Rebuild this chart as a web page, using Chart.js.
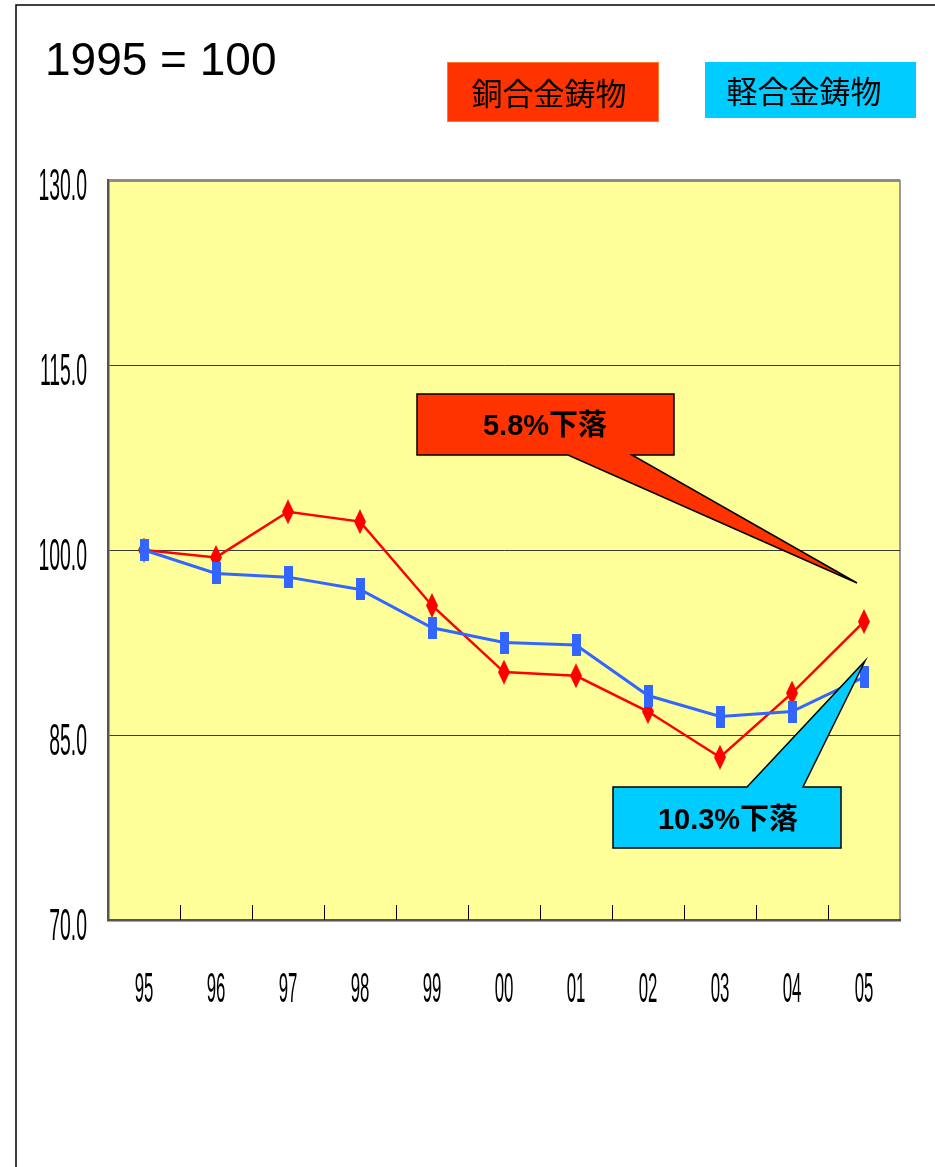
<!DOCTYPE html>
<html>
<head>
<meta charset="utf-8">
<script src="https://cdn.jsdelivr.net/npm/chart.js@4"></script>
<style>
  html, body { margin: 0; padding: 0; background: #ffffff; }
  canvas { display: block; }
</style>
</head>
<body>
<canvas id="c" width="935" height="1167"></canvas>
<script>
// ---- data ----
const categories = ['95', '96', '97', '98', '99', '00', '01', '02', '03', '04', '05'];
const copperAlloy = [100, 99.4, 103.1, 102.3, 95.5, 90.1, 89.8, 86.9, 83.2, 88.4, 94.2];
const lightAlloy  = [100, 98.1, 97.8, 96.8, 93.7, 92.5, 92.3, 88.2, 86.5, 86.9, 89.7];
const yTicks = [70, 85, 100, 115, 130];
const seriesNames = ['銅合金鋳物', '軽合金鋳物'];
const baseTitle = '1995 = 100';
const calloutTexts = ['5.8%下落', '10.3%下落'];

// ---- marker images ----
function makeDiamond(w, h, color) {
  const c = document.createElement('canvas');
  c.width = w; c.height = h;
  const g = c.getContext('2d');
  g.fillStyle = color;
  g.beginPath();
  g.moveTo(w / 2, 0); g.lineTo(w, h / 2); g.lineTo(w / 2, h); g.lineTo(0, h / 2);
  g.closePath(); g.fill();
  return c;
}
function makeRect(w, h, color) {
  const c = document.createElement('canvas');
  c.width = w; c.height = h;
  const g = c.getContext('2d');
  g.fillStyle = color;
  g.fillRect(0, 0, w, h);
  return c;
}
const redMarker = makeDiamond(12, 25, '#ff0000');
const blueMarker = makeRect(9, 22, '#3366ff');

const CJK = '"Noto Sans CJK JP", "Noto Sans", sans-serif';
const LAT = '"Liberation Sans", Arial, sans-serif';
const MIX = '"Liberation Sans", "Noto Sans CJK JP", sans-serif';

const decor = {
  id: 'decor',
  beforeDraw(chart) {
    const ctx = chart.ctx, a = chart.chartArea;
    ctx.save();
    ctx.fillStyle = '#ffffff';
    ctx.fillRect(0, 0, chart.width, chart.height);
    // page frame
    ctx.strokeStyle = '#000000';
    ctx.lineWidth = 1.5;
    ctx.beginPath();
    ctx.moveTo(16, chart.height); ctx.lineTo(16, 5); ctx.lineTo(chart.width, 5);
    ctx.stroke();
    // plot background
    ctx.fillStyle = '#ffff99';
    ctx.fillRect(a.left, a.top, a.right - a.left, a.bottom - a.top);
    // right border
    ctx.strokeStyle = '#9a9a9a';
    ctx.lineWidth = 2;
    ctx.beginPath();
    ctx.moveTo(a.right, a.top); ctx.lineTo(a.right, a.bottom);
    ctx.stroke();
    ctx.restore();
  },
  beforeDatasetsDraw(chart) {
    const ctx = chart.ctx, a = chart.chartArea, xs = chart.scales.x;
    ctx.save();
    ctx.strokeStyle = '#000000';
    ctx.lineWidth = 1;
    for (let i = 1; i < categories.length; i++) {
      const x = Math.round((xs.getPixelForValue(i - 1) + xs.getPixelForValue(i)) / 2) + 0.5;
      ctx.beginPath();
      ctx.moveTo(x, a.bottom - 15); ctx.lineTo(x, a.bottom);
      ctx.stroke();
    }
    ctx.restore();
  },
  afterDatasetsDraw(chart) {
    const ctx = chart.ctx;
    ctx.save();
    ctx.lineJoin = 'miter';
    // red callout
    ctx.beginPath();
    ctx.moveTo(417, 394); ctx.lineTo(674, 394); ctx.lineTo(674, 455);
    ctx.lineTo(632, 455); ctx.lineTo(857, 583); ctx.lineTo(568, 455);
    ctx.lineTo(417, 455); ctx.closePath();
    ctx.fillStyle = '#ff3300'; ctx.fill();
    ctx.strokeStyle = '#000000'; ctx.lineWidth = 1.5; ctx.stroke();
    // blue callout
    ctx.beginPath();
    ctx.moveTo(613, 787); ctx.lineTo(747, 787); ctx.lineTo(865, 661);
    ctx.lineTo(803, 787); ctx.lineTo(841, 787); ctx.lineTo(841, 848);
    ctx.lineTo(613, 848); ctx.closePath();
    ctx.fillStyle = '#00ccff'; ctx.fill();
    ctx.strokeStyle = '#000000'; ctx.lineWidth = 1.5; ctx.stroke();
    // callout texts
    ctx.fillStyle = '#000000';
    ctx.textAlign = 'center';
    ctx.textBaseline = 'middle';
    ctx.font = 'bold 29px ' + MIX;
    ctx.fillText(calloutTexts[0], 545, 427);
    ctx.fillText(calloutTexts[1], 728, 821);
    ctx.restore();
  },
  afterDraw(chart) {
    const ctx = chart.ctx, a = chart.chartArea;
    const xs = chart.scales.x, ys = chart.scales.y;
    ctx.save();
    // title
    ctx.fillStyle = '#000000';
    ctx.textAlign = 'left';
    ctx.textBaseline = 'alphabetic';
    ctx.font = '46px ' + LAT;
    ctx.fillText(baseTitle, 45, 75);
    // legend boxes
    ctx.fillStyle = '#ff3300';
    ctx.fillRect(447, 62, 212, 60);
    ctx.strokeStyle = '#ff7a33'; ctx.lineWidth = 1;
    ctx.strokeRect(447.5, 62.5, 211, 59);
    ctx.fillStyle = '#00ccff';
    ctx.fillRect(705, 62, 211, 56);
    ctx.fillStyle = '#000000';
    ctx.textAlign = 'center';
    ctx.textBaseline = 'middle';
    ctx.font = '31px ' + CJK;
    ctx.fillText(seriesNames[0], 549, 93);
    ctx.fillText(seriesNames[1], 804, 91);
    // y tick labels (condensed)
    ctx.font = '44px ' + LAT;
    ctx.textAlign = 'right';
    ctx.textBaseline = 'alphabetic';
    ys.ticks.forEach(t => {
      const y = ys.getPixelForValue(t.value);
      ctx.save();
      ctx.translate(87, y + 20);
      ctx.scale(0.44, 1);
      ctx.fillText(t.value.toFixed(1), 0, 0);
      ctx.restore();
    });
    // x tick labels (condensed)
    ctx.font = '42px ' + LAT;
    ctx.textAlign = 'center';
    categories.forEach((c, i) => {
      const x = xs.getPixelForValue(i);
      ctx.save();
      ctx.translate(x, a.bottom + 82);
      ctx.scale(0.4, 1);
      ctx.fillText(c, 0, 0);
      ctx.restore();
    });
    ctx.restore();
  }
};

new Chart(document.getElementById('c'), {
  type: 'line',
  data: {
    labels: categories,
    datasets: [
      {
        label: seriesNames[1],
        data: lightAlloy,
        borderColor: '#3366ff',
        borderWidth: 3,
        pointStyle: blueMarker,
        pointRadius: 11,
        tension: 0,
        order: 0
      },
      {
        label: seriesNames[0],
        data: copperAlloy,
        borderColor: '#ff0000',
        borderWidth: 2.5,
        pointStyle: redMarker,
        pointRadius: 12,
        tension: 0,
        order: 1
      }
    ]
  },
  options: {
    responsive: false,
    devicePixelRatio: 1,
    animation: false,
    layout: { padding: { left: 108, right: 35, top: 180, bottom: 247 } },
    plugins: { legend: { display: false }, tooltip: { enabled: false } },
    scales: {
      x: {
        type: 'category',
        offset: true,
        grid: { display: false, drawTicks: false },
        border: { display: true, color: '#555555', width: 2.5 },
        ticks: { display: false }
      },
      y: {
        min: 70,
        max: 130,
        afterBuildTicks(scale) { scale.ticks = yTicks.map(v => ({ value: v })); },
        grid: {
          drawTicks: false,
          color: c => c.tick && c.tick.value === 130 ? '#8c8c8c' : (c.tick && c.tick.value === 70 ? 'rgba(0,0,0,0)' : '#3a3a3a'),
          lineWidth: c => c.tick && c.tick.value === 130 ? 3 : 1
        },
        border: { display: true, color: '#555555', width: 2.5 },
        ticks: { display: false }
      }
    }
  },
  plugins: [decor]
});
</script>
</body>
</html>
